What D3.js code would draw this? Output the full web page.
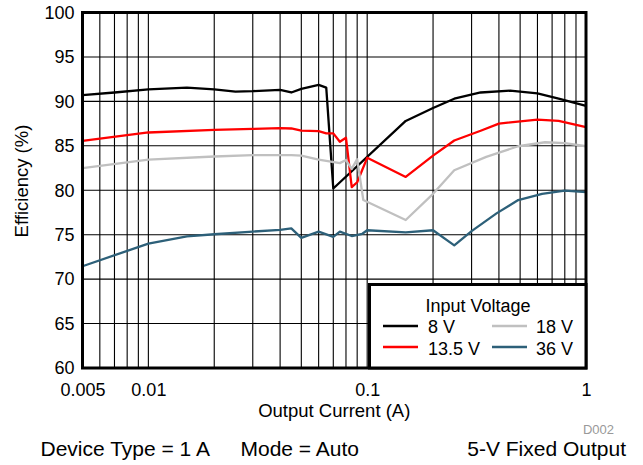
<!DOCTYPE html>
<html>
<head>
<meta charset="utf-8">
<script src="https://cdn.jsdelivr.net/npm/d3@7"></script>
<style>
  html, body { margin: 0; padding: 0; background: #fff; }
  svg { display: block; font-family: "Liberation Sans", Arial, Helvetica, sans-serif; }
</style>
</head>
<body>
<svg id="chart" width="643" height="465"></svg>
<script>
// ---- Data (Output current in A, efficiency in %) ----
const seriesNames = ["8 V", "13.5 V", "18 V", "36 V"];
const seriesColors = ["#000000", "#ff0000", "#c0c0c0", "#2d6079"];

const v8 = [
  [0.005, 90.7], [0.007, 91.0], [0.01, 91.35], [0.015, 91.55], [0.02, 91.35],
  [0.025, 91.1], [0.03, 91.15], [0.04, 91.3], [0.045, 91.0], [0.05, 91.4],
  [0.06, 91.85], [0.065, 91.55], [0.07, 80.2], [0.15, 87.8], [0.2, 89.25],
  [0.25, 90.3], [0.33, 91.0], [0.45, 91.2], [0.6, 90.9], [0.75, 90.3], [1.0, 89.5]
];
const v13_5 = [
  [0.005, 85.55], [0.01, 86.5], [0.02, 86.8], [0.03, 86.9], [0.04, 87.0],
  [0.045, 86.95], [0.05, 86.7], [0.06, 86.65], [0.065, 86.4], [0.07, 86.4],
  [0.075, 85.45], [0.08, 85.9], [0.085, 80.35], [0.09, 80.9], [0.1, 83.65],
  [0.15, 81.5], [0.2, 83.9], [0.25, 85.6], [0.33, 86.7], [0.4, 87.5],
  [0.6, 87.95], [0.75, 87.8], [1.0, 87.1]
];
const v18 = [
  [0.005, 82.5], [0.01, 83.45], [0.02, 83.8], [0.03, 83.95], [0.04, 83.95],
  [0.045, 83.95], [0.05, 83.9], [0.06, 83.45], [0.075, 83.05], [0.08, 83.4],
  [0.085, 82.4], [0.09, 83.5], [0.096, 78.9], [0.15, 76.65], [0.2, 79.6],
  [0.25, 82.25], [0.35, 83.75], [0.49, 84.95], [0.65, 85.4], [0.8, 85.3], [1.0, 84.95]
];
const v36 = [
  [0.005, 71.45], [0.01, 74.0], [0.015, 74.8], [0.02, 75.05], [0.03, 75.35],
  [0.04, 75.55], [0.045, 75.7], [0.05, 74.65], [0.06, 75.35], [0.07, 74.75],
  [0.075, 75.35], [0.085, 74.85], [0.095, 75.1], [0.1, 75.5], [0.15, 75.25],
  [0.2, 75.5], [0.25, 73.8], [0.3, 75.4], [0.39, 77.4], [0.49, 78.9],
  [0.63, 79.6], [0.8, 79.95], [1.0, 79.8]
];
const seriesData = [v8, v13_5, v18, v36];

const xTickValues = [0.005, 0.01, 0.1, 1];
const xTickLabels = ["0.005", "0.01", "0.1", "1"];
const xGridValues = [0.006, 0.007, 0.008, 0.009, 0.01, 0.02, 0.03, 0.04, 0.05, 0.06, 0.07, 0.08, 0.09,
                     0.1, 0.2, 0.3, 0.4, 0.5, 0.6, 0.7, 0.8, 0.9];
const yTickValues = [60, 65, 70, 75, 80, 85, 90, 95, 100];
const yGridValues = [65, 70, 75, 80, 85, 90, 95];

// ---- Layout ----
const svg = d3.select("#chart");
const L = 82.5, R = 586, T = 12.5, B = 368;

const x = d3.scaleLog().domain([0.005, 1]).range([L, R]);
const y = d3.scaleLinear().domain([60, 100]).range([B, T]);

// grid
const grid = svg.append("g");
grid.selectAll("line.vg").data(xGridValues).join("line")
  .attr("x1", d => x(d)).attr("x2", d => x(d))
  .attr("y1", T).attr("y2", B)
  .attr("stroke", "#000").attr("stroke-width", 1.1);
grid.selectAll("line.hg").data(yGridValues).join("line")
  .attr("y1", d => y(d)).attr("y2", d => y(d))
  .attr("x1", L).attr("x2", R)
  .attr("stroke", "#000").attr("stroke-width", 1.1);

// series lines
const line = d3.line().x(d => x(d[0])).y(d => y(d[1])).curve(d3.curveLinear);
seriesData.forEach((data, i) => {
  svg.append("path")
    .datum(data)
    .attr("d", line)
    .attr("fill", "none")
    .attr("stroke", seriesColors[i])
    .attr("stroke-width", 2.3)
    .attr("stroke-linejoin", "round");
});

// frame
svg.append("rect")
  .attr("x", L).attr("y", T).attr("width", R - L).attr("height", B - T)
  .attr("fill", "none").attr("stroke", "#000").attr("stroke-width", 3);

// axes
const yAxis = d3.axisLeft(y).tickValues(yTickValues).tickSize(0).tickPadding(8).tickFormat(d3.format("d"));
const gy = svg.append("g").attr("transform", `translate(${L},0)`).call(yAxis);
gy.select(".domain").remove();
gy.selectAll("text").attr("font-size", 18).attr("fill", "#000")
  .attr("font-family", "'Liberation Sans', Arial, sans-serif");

const xAxis = d3.axisBottom(x).tickValues(xTickValues).tickSize(0).tickPadding(15)
  .tickFormat((d, i) => xTickLabels[i]);
const gx = svg.append("g").attr("transform", `translate(0,${B})`).call(xAxis);
gx.select(".domain").remove();
gx.selectAll("text").attr("font-size", 18).attr("fill", "#000")
  .attr("font-family", "'Liberation Sans', Arial, sans-serif");

// axis titles
svg.append("text")
  .attr("x", (L + R) / 2).attr("y", 417)
  .attr("text-anchor", "middle").attr("font-size", 18.5)
  .text("Output Current (A)");
svg.append("text")
  .attr("transform", "translate(27.5,181) rotate(-90)")
  .attr("text-anchor", "middle").attr("font-size", 18.5)
  .text("Efficiency (%)");

svg.append("text")
  .attr("x", 614).attr("y", 434)
  .attr("text-anchor", "end").attr("font-size", 13).attr("fill", "#999")
  .text("D002");

// legend
const lg = svg.append("g");
lg.append("rect")
  .attr("x", 369.5).attr("y", 284.5).attr("width", R - 369.5).attr("height", B - 284.5)
  .attr("fill", "#fff").attr("stroke", "#000").attr("stroke-width", 3);
lg.append("text").attr("x", 478).attr("y", 311.5).attr("text-anchor", "middle")
  .attr("font-size", 18).text("Input Voltage");
const legPos = [
  { lx: 383, tx: 428, ly: 326, ty: 333 },
  { lx: 383, tx: 428, ly: 347, ty: 355 },
  { lx: 492, tx: 536, ly: 326, ty: 333 },
  { lx: 492, tx: 536, ly: 347, ty: 355 }
];
seriesNames.forEach((name, i) => {
  const p = legPos[i];
  lg.append("line").attr("x1", p.lx).attr("x2", p.lx + 35).attr("y1", p.ly).attr("y2", p.ly)
    .attr("stroke", seriesColors[i]).attr("stroke-width", 2.5);
  lg.append("text").attr("x", p.tx).attr("y", p.ty).attr("font-size", 18).text(name);
});

// footer
svg.append("text").attr("x", 40.5).attr("y", 456).attr("font-size", 21).text("Device Type = 1 A");
svg.append("text").attr("x", 240.5).attr("y", 456).attr("font-size", 21).text("Mode = Auto");
svg.append("text").attr("x", 626).attr("y", 456).attr("text-anchor", "end").attr("font-size", 21).text("5-V Fixed Output");
</script>
</body>
</html>
